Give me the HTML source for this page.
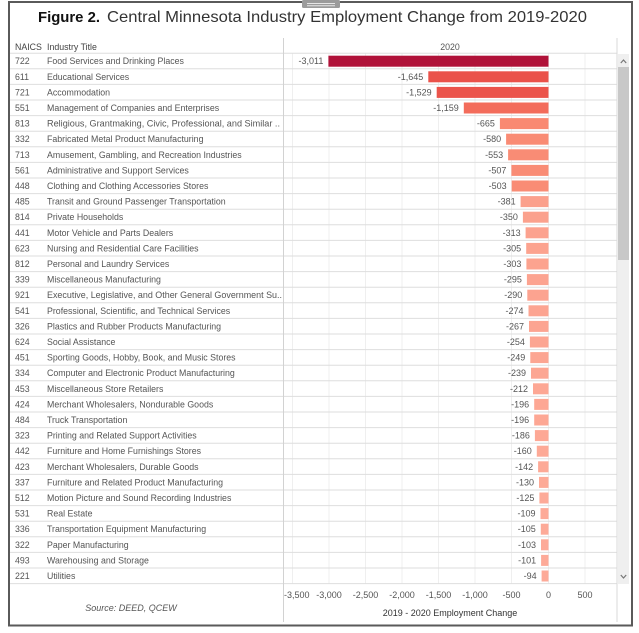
<!DOCTYPE html>
<html><head><meta charset="utf-8">
<style>
html,body{margin:0;padding:0;background:#fff;}
svg{display:block;}
text{font-family:"Liberation Sans",sans-serif;}
.c{font-size:8.8px;fill:#555;}
.v{font-size:9px;fill:#555;text-anchor:end;}
.t{font-size:9px;fill:#555;text-anchor:middle;}
</style></head>
<body>
<svg width="639" height="633" viewBox="0 0 639 633" xmlns="http://www.w3.org/2000/svg">
<rect x="0" y="0" width="639" height="633" fill="#fff"/>
<!-- frame -->
<rect x="9" y="2" width="623" height="623.5" fill="#fff" stroke="#5a5a5a" stroke-width="2"/>
<!-- handle -->
<rect x="302" y="0" width="38" height="8" rx="1.5" fill="#9b9b9b"/>
<line x1="307" y1="3.5" x2="335" y2="3.5" stroke="#e6e6e6" stroke-width="1"/>
<line x1="307" y1="5.8" x2="335" y2="5.8" stroke="#e6e6e6" stroke-width="1"/>
<!-- title -->
<text x="38" y="22" font-size="15" font-weight="bold" fill="#111" textLength="62" lengthAdjust="spacingAndGlyphs">Figure 2.</text>
<text x="107" y="22" font-size="16" fill="#333" textLength="480" lengthAdjust="spacingAndGlyphs">Central Minnesota Industry Employment Change from 2019-2020</text>
<!-- headers -->
<text x="15" y="50" font-size="8.8" fill="#444">NAICS</text>
<text x="47" y="50" font-size="8.8" fill="#444">Industry Title</text>
<text x="450" y="50" font-size="8.8" fill="#555" text-anchor="middle">2020</text>
<!-- vertical gridlines -->
<g stroke="#efefef" stroke-width="1">
<line x1="292.5" y1="53" x2="292.5" y2="584"/>
<line x1="329" y1="53" x2="329" y2="584"/>
<line x1="365.5" y1="53" x2="365.5" y2="584"/>
<line x1="402" y1="53" x2="402" y2="584"/>
<line x1="438.5" y1="53" x2="438.5" y2="584"/>
<line x1="475" y1="53" x2="475" y2="584"/>
<line x1="511.5" y1="53" x2="511.5" y2="584"/>
<line x1="548.5" y1="53" x2="548.5" y2="584"/>
<line x1="585" y1="53" x2="585" y2="584"/>
</g>
<!-- row lines -->
<g stroke="#dedede" stroke-width="1">
<line x1="10" y1="53.2" x2="617" y2="53.2"/>
<line x1="10" y1="68.8" x2="617" y2="68.8"/>
<line x1="10" y1="84.4" x2="617" y2="84.4"/>
<line x1="10" y1="100" x2="617" y2="100"/>
<line x1="10" y1="115.6" x2="617" y2="115.6"/>
<line x1="10" y1="131.2" x2="617" y2="131.2"/>
<line x1="10" y1="146.8" x2="617" y2="146.8"/>
<line x1="10" y1="162.4" x2="617" y2="162.4"/>
<line x1="10" y1="178" x2="617" y2="178"/>
<line x1="10" y1="193.6" x2="617" y2="193.6"/>
<line x1="10" y1="209.2" x2="617" y2="209.2"/>
<line x1="10" y1="224.8" x2="617" y2="224.8"/>
<line x1="10" y1="240.4" x2="617" y2="240.4"/>
<line x1="10" y1="256" x2="617" y2="256"/>
<line x1="10" y1="271.6" x2="617" y2="271.6"/>
<line x1="10" y1="287.2" x2="617" y2="287.2"/>
<line x1="10" y1="302.8" x2="617" y2="302.8"/>
<line x1="10" y1="318.4" x2="617" y2="318.4"/>
<line x1="10" y1="334" x2="617" y2="334"/>
<line x1="10" y1="349.6" x2="617" y2="349.6"/>
<line x1="10" y1="365.2" x2="617" y2="365.2"/>
<line x1="10" y1="380.8" x2="617" y2="380.8"/>
<line x1="10" y1="396.4" x2="617" y2="396.4"/>
<line x1="10" y1="412" x2="617" y2="412"/>
<line x1="10" y1="427.6" x2="617" y2="427.6"/>
<line x1="10" y1="443.2" x2="617" y2="443.2"/>
<line x1="10" y1="458.8" x2="617" y2="458.8"/>
<line x1="10" y1="474.4" x2="617" y2="474.4"/>
<line x1="10" y1="490" x2="617" y2="490"/>
<line x1="10" y1="505.6" x2="617" y2="505.6"/>
<line x1="10" y1="521.2" x2="617" y2="521.2"/>
<line x1="10" y1="536.8" x2="617" y2="536.8"/>
<line x1="10" y1="552.4" x2="617" y2="552.4"/>
<line x1="10" y1="568" x2="617" y2="568"/>
<line x1="10" y1="583.6" x2="617" y2="583.6"/>
</g>
<!-- pane separators -->
<line x1="283.5" y1="38" x2="283.5" y2="622" stroke="#d2d2d2" stroke-width="1"/>
<line x1="617" y1="38" x2="617" y2="622" stroke="#d8d8d8" stroke-width="1"/>
<!-- scrollbar -->
<rect x="618" y="54" width="11" height="530" fill="#efefef"/>
<rect x="618" y="67" width="11" height="193" fill="#c8c8c8"/>
<path d="M620.8 63 L623.5 60 L626.2 63" fill="none" stroke="#777" stroke-width="1.2"/>
<path d="M620.8 575 L623.5 578 L626.2 575" fill="none" stroke="#777" stroke-width="1.2"/>
<!-- bars -->
<rect x="328.4" y="55.7" width="220.1" height="11" fill="#b01239"/>
<rect x="428.3" y="71.3" width="120.2" height="11" fill="#ea524a"/>
<rect x="436.7" y="86.9" width="111.8" height="11" fill="#eb544b"/>
<rect x="463.8" y="102.5" width="84.7" height="11" fill="#f36c5b"/>
<rect x="499.9" y="118.1" width="48.6" height="11" fill="#f98972"/>
<rect x="506.1" y="133.7" width="42.4" height="11" fill="#f98b74"/>
<rect x="508.1" y="149.3" width="40.4" height="11" fill="#f98c75"/>
<rect x="511.4" y="164.9" width="37.1" height="11" fill="#f98c75"/>
<rect x="511.7" y="180.5" width="36.8" height="11" fill="#f98c75"/>
<rect x="520.6" y="196.1" width="27.9" height="11" fill="#fba08c"/>
<rect x="522.9" y="211.7" width="25.6" height="11" fill="#fba18d"/>
<rect x="525.6" y="227.3" width="22.9" height="11" fill="#fca28f"/>
<rect x="526.2" y="242.9" width="22.3" height="11" fill="#fca38f"/>
<rect x="526.4" y="258.5" width="22.1" height="11" fill="#fca38f"/>
<rect x="526.9" y="274.1" width="21.6" height="11" fill="#fca390"/>
<rect x="527.3" y="289.7" width="21.2" height="11" fill="#fca390"/>
<rect x="528.5" y="305.3" width="20" height="11" fill="#fca491"/>
<rect x="529" y="320.9" width="19.5" height="11" fill="#fca491"/>
<rect x="529.9" y="336.5" width="18.6" height="11" fill="#fca592"/>
<rect x="530.3" y="352.1" width="18.2" height="11" fill="#fca592"/>
<rect x="531" y="367.7" width="17.5" height="11" fill="#fca693"/>
<rect x="533" y="383.3" width="15.5" height="11" fill="#fda794"/>
<rect x="534.2" y="398.9" width="14.3" height="11" fill="#fda794"/>
<rect x="534.2" y="414.5" width="14.3" height="11" fill="#fda794"/>
<rect x="534.9" y="430.1" width="13.6" height="11" fill="#fda895"/>
<rect x="536.8" y="445.7" width="11.7" height="11" fill="#fda996"/>
<rect x="538.1" y="461.3" width="10.4" height="11" fill="#fda996"/>
<rect x="539" y="476.9" width="9.5" height="11" fill="#fdaa97"/>
<rect x="539.4" y="492.5" width="9.1" height="11" fill="#fdaa98"/>
<rect x="540.5" y="508.1" width="8" height="11" fill="#fdaa98"/>
<rect x="540.8" y="523.7" width="7.7" height="11" fill="#fdaa98"/>
<rect x="541" y="539.3" width="7.5" height="11" fill="#fdaa98"/>
<rect x="541.1" y="554.9" width="7.4" height="11" fill="#fdaa98"/>
<rect x="541.6" y="570.5" width="6.9" height="11" fill="#fdaa98"/>
<!-- value labels -->
<text class="v" x="323.4" y="64.2">-3,011</text>
<text class="v" x="423.3" y="79.8">-1,645</text>
<text class="v" x="431.7" y="95.4">-1,529</text>
<text class="v" x="458.8" y="111">-1,159</text>
<text class="v" x="494.9" y="126.6">-665</text>
<text class="v" x="501.1" y="142.2">-580</text>
<text class="v" x="503.1" y="157.8">-553</text>
<text class="v" x="506.4" y="173.4">-507</text>
<text class="v" x="506.7" y="189">-503</text>
<text class="v" x="515.6" y="204.6">-381</text>
<text class="v" x="517.9" y="220.2">-350</text>
<text class="v" x="520.6" y="235.8">-313</text>
<text class="v" x="521.2" y="251.4">-305</text>
<text class="v" x="521.4" y="267">-303</text>
<text class="v" x="521.9" y="282.6">-295</text>
<text class="v" x="522.3" y="298.2">-290</text>
<text class="v" x="523.5" y="313.8">-274</text>
<text class="v" x="524" y="329.4">-267</text>
<text class="v" x="524.9" y="345">-254</text>
<text class="v" x="525.3" y="360.6">-249</text>
<text class="v" x="526" y="376.2">-239</text>
<text class="v" x="528" y="391.8">-212</text>
<text class="v" x="529.2" y="407.4">-196</text>
<text class="v" x="529.2" y="423">-196</text>
<text class="v" x="529.9" y="438.6">-186</text>
<text class="v" x="531.8" y="454.2">-160</text>
<text class="v" x="533.1" y="469.8">-142</text>
<text class="v" x="534" y="485.4">-130</text>
<text class="v" x="534.4" y="501">-125</text>
<text class="v" x="535.5" y="516.6">-109</text>
<text class="v" x="535.8" y="532.2">-105</text>
<text class="v" x="536" y="547.8">-103</text>
<text class="v" x="536.1" y="563.4">-101</text>
<text class="v" x="536.6" y="579">-94</text>
<!-- NAICS codes -->
<g class="c">
<text x="15" y="64.2">722</text>
<text x="15" y="79.8">611</text>
<text x="15" y="95.4">721</text>
<text x="15" y="111">551</text>
<text x="15" y="126.6">813</text>
<text x="15" y="142.2">332</text>
<text x="15" y="157.8">713</text>
<text x="15" y="173.4">561</text>
<text x="15" y="189">448</text>
<text x="15" y="204.6">485</text>
<text x="15" y="220.2">814</text>
<text x="15" y="235.8">441</text>
<text x="15" y="251.4">623</text>
<text x="15" y="267">812</text>
<text x="15" y="282.6">339</text>
<text x="15" y="298.2">921</text>
<text x="15" y="313.8">541</text>
<text x="15" y="329.4">326</text>
<text x="15" y="345">624</text>
<text x="15" y="360.6">451</text>
<text x="15" y="376.2">334</text>
<text x="15" y="391.8">453</text>
<text x="15" y="407.4">424</text>
<text x="15" y="423">484</text>
<text x="15" y="438.6">323</text>
<text x="15" y="454.2">442</text>
<text x="15" y="469.8">423</text>
<text x="15" y="485.4">337</text>
<text x="15" y="501">512</text>
<text x="15" y="516.6">531</text>
<text x="15" y="532.2">336</text>
<text x="15" y="547.8">322</text>
<text x="15" y="563.4">493</text>
<text x="15" y="579">221</text>
</g>
<!-- industry titles -->
<g class="c">
<text x="47" y="64.2">Food Services and Drinking Places</text>
<text x="47" y="79.8">Educational Services</text>
<text x="47" y="95.4">Accommodation</text>
<text x="47" y="111">Management of Companies and Enterprises</text>
<text x="47" y="126.6" textLength="233" lengthAdjust="spacingAndGlyphs">Religious, Grantmaking, Civic, Professional, and Similar ..</text>
<text x="47" y="142.2">Fabricated Metal Product Manufacturing</text>
<text x="47" y="157.8">Amusement, Gambling, and Recreation Industries</text>
<text x="47" y="173.4">Administrative and Support Services</text>
<text x="47" y="189">Clothing and Clothing Accessories Stores</text>
<text x="47" y="204.6">Transit and Ground Passenger Transportation</text>
<text x="47" y="220.2">Private Households</text>
<text x="47" y="235.8">Motor Vehicle and Parts Dealers</text>
<text x="47" y="251.4">Nursing and Residential Care Facilities</text>
<text x="47" y="267">Personal and Laundry Services</text>
<text x="47" y="282.6">Miscellaneous Manufacturing</text>
<text x="47" y="298.2" textLength="235" lengthAdjust="spacingAndGlyphs">Executive, Legislative, and Other General Government Su..</text>
<text x="47" y="313.8">Professional, Scientific, and Technical Services</text>
<text x="47" y="329.4">Plastics and Rubber Products Manufacturing</text>
<text x="47" y="345">Social Assistance</text>
<text x="47" y="360.6">Sporting Goods, Hobby, Book, and Music Stores</text>
<text x="47" y="376.2">Computer and Electronic Product Manufacturing</text>
<text x="47" y="391.8">Miscellaneous Store Retailers</text>
<text x="47" y="407.4">Merchant Wholesalers, Nondurable Goods</text>
<text x="47" y="423">Truck Transportation</text>
<text x="47" y="438.6">Printing and Related Support Activities</text>
<text x="47" y="454.2">Furniture and Home Furnishings Stores</text>
<text x="47" y="469.8">Merchant Wholesalers, Durable Goods</text>
<text x="47" y="485.4">Furniture and Related Product Manufacturing</text>
<text x="47" y="501">Motion Picture and Sound Recording Industries</text>
<text x="47" y="516.6">Real Estate</text>
<text x="47" y="532.2">Transportation Equipment Manufacturing</text>
<text x="47" y="547.8">Paper Manufacturing</text>
<text x="47" y="563.4">Warehousing and Storage</text>
<text x="47" y="579">Utilities</text>
</g>
<!-- axis ticks -->
<text x="284" y="598" font-size="9" fill="#555">-3,500</text>
<text class="t" x="329" y="598">-3,000</text>
<text class="t" x="365.5" y="598">-2,500</text>
<text class="t" x="402" y="598">-2,000</text>
<text class="t" x="438.5" y="598">-1,500</text>
<text class="t" x="475" y="598">-1,000</text>
<text class="t" x="511.5" y="598">-500</text>
<text class="t" x="548.5" y="598">0</text>
<text class="t" x="585" y="598">500</text>
<text x="450" y="616" font-size="9" fill="#333" text-anchor="middle">2019 - 2020 Employment Change</text>
<text x="131" y="611" font-size="9" font-style="italic" fill="#555" text-anchor="middle">Source: DEED, QCEW</text>
</svg>
</body></html>
